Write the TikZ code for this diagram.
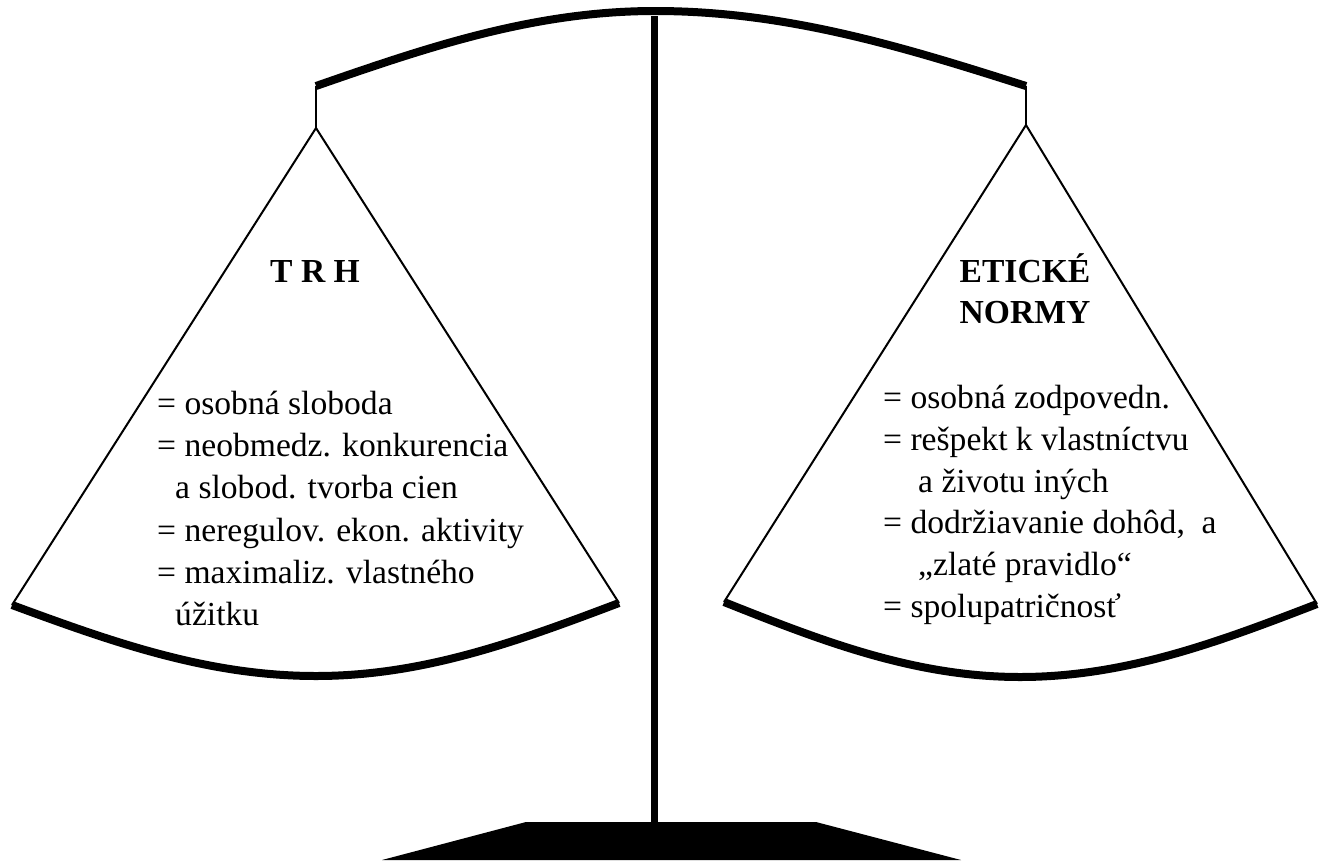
\documentclass[tikz,border=0pt]{standalone}
\usepackage{fontspec}
\setmainfont{Liberation Serif}
\begin{document}
\begin{tikzpicture}[x=1pt,y=-1pt,
  lbl/.style={inner sep=0pt, anchor=base west, font=\fontsize{33.6}{40}\selectfont},
  head/.style={inner sep=0pt, anchor=base, font=\fontsize{33.6}{40}\selectfont\bfseries},
  beam/.style={line width=8pt},
  hanger/.style={line width=2.5pt},
  cord/.style={line width=2pt, line join=miter},
  panline/.style={line width=8pt}]
\useasboundingbox (0,0) rectangle (1320,863);
% beam
\coordinate (bl) at (316,86);
\coordinate (bt) at (655,11);
\coordinate (br) at (1026,86);
\draw[beam] (bl) .. controls (426.5,47.6) and (533.6,11) .. (bt)
            .. controls (787.8,11) and (905,47.6) .. (br);
% post
\coordinate (ptop) at (654,16);
\coordinate (pbot) at (654,823);
\draw[line width=7pt] (ptop) -- (pbot);
% base
\fill (382,860) -- (526,822) -- (816,822) -- (961,860) -- cycle;
% left pan
\coordinate (la) at (316,128);
\coordinate (ll) at (12,605);
\coordinate (lr) at (619,603);
\coordinate (lb) at (316,676);
\draw[hanger] (bl) -- (la);
\draw[cord] (ll) -- (la) -- (lr);
\draw[panline] (ll) .. controls (111,641.4) and (207,676) .. (lb)
               .. controls (424.5,676) and (520,640.4) .. (lr);
% right pan
\coordinate (ra) at (1026,125);
\coordinate (rl) at (724,602);
\coordinate (rr) at (1317,604);
\coordinate (rb) at (1020,677);
\draw[hanger] (br) -- (ra);
\draw[cord] (rl) -- (ra) -- (rr);
\draw[panline] (rl) .. controls (820.5,640.4) and (914,677) .. (rb)
               .. controls (1126,677) and (1220,641.4) .. (rr);
% texts left
\node[head] (trh) at (315,282) {T R H};
\node[lbl] (l1) at (157,414) {= osobná sloboda};
\node[lbl] (l2) at (157,456) {= neobmedz. konkurencia};
\node[lbl] (l3) at (175,498) {a slobod. tvorba cien};
\node[lbl] (l4) at (157,541) {= neregulov. ekon. aktivity};
\node[lbl] (l5) at (157,583) {= maximaliz. vlastného};
\node[lbl] (l6) at (175,625) {úžitku};
% texts right
\node[head] (et) at (1025,282) {ETICKÉ};
\node[head] (no) at (1025,323) {NORMY};
\node[lbl] (r1) at (883,408) {= osobná zodpovedn.};
\node[lbl] (r2) at (883,450) {= rešpekt k vlastníctvu};
\node[lbl] (r3) at (918,492) {a životu iných};
\node[lbl] (r4) at (883,533) {= dodržiavanie dohôd,~ a};
\node[lbl] (r5) at (918,575) {„zlaté pravidlo“};
\node[lbl] (r6) at (883,617) {= spolupatričnosť};
\end{tikzpicture}
\end{document}
